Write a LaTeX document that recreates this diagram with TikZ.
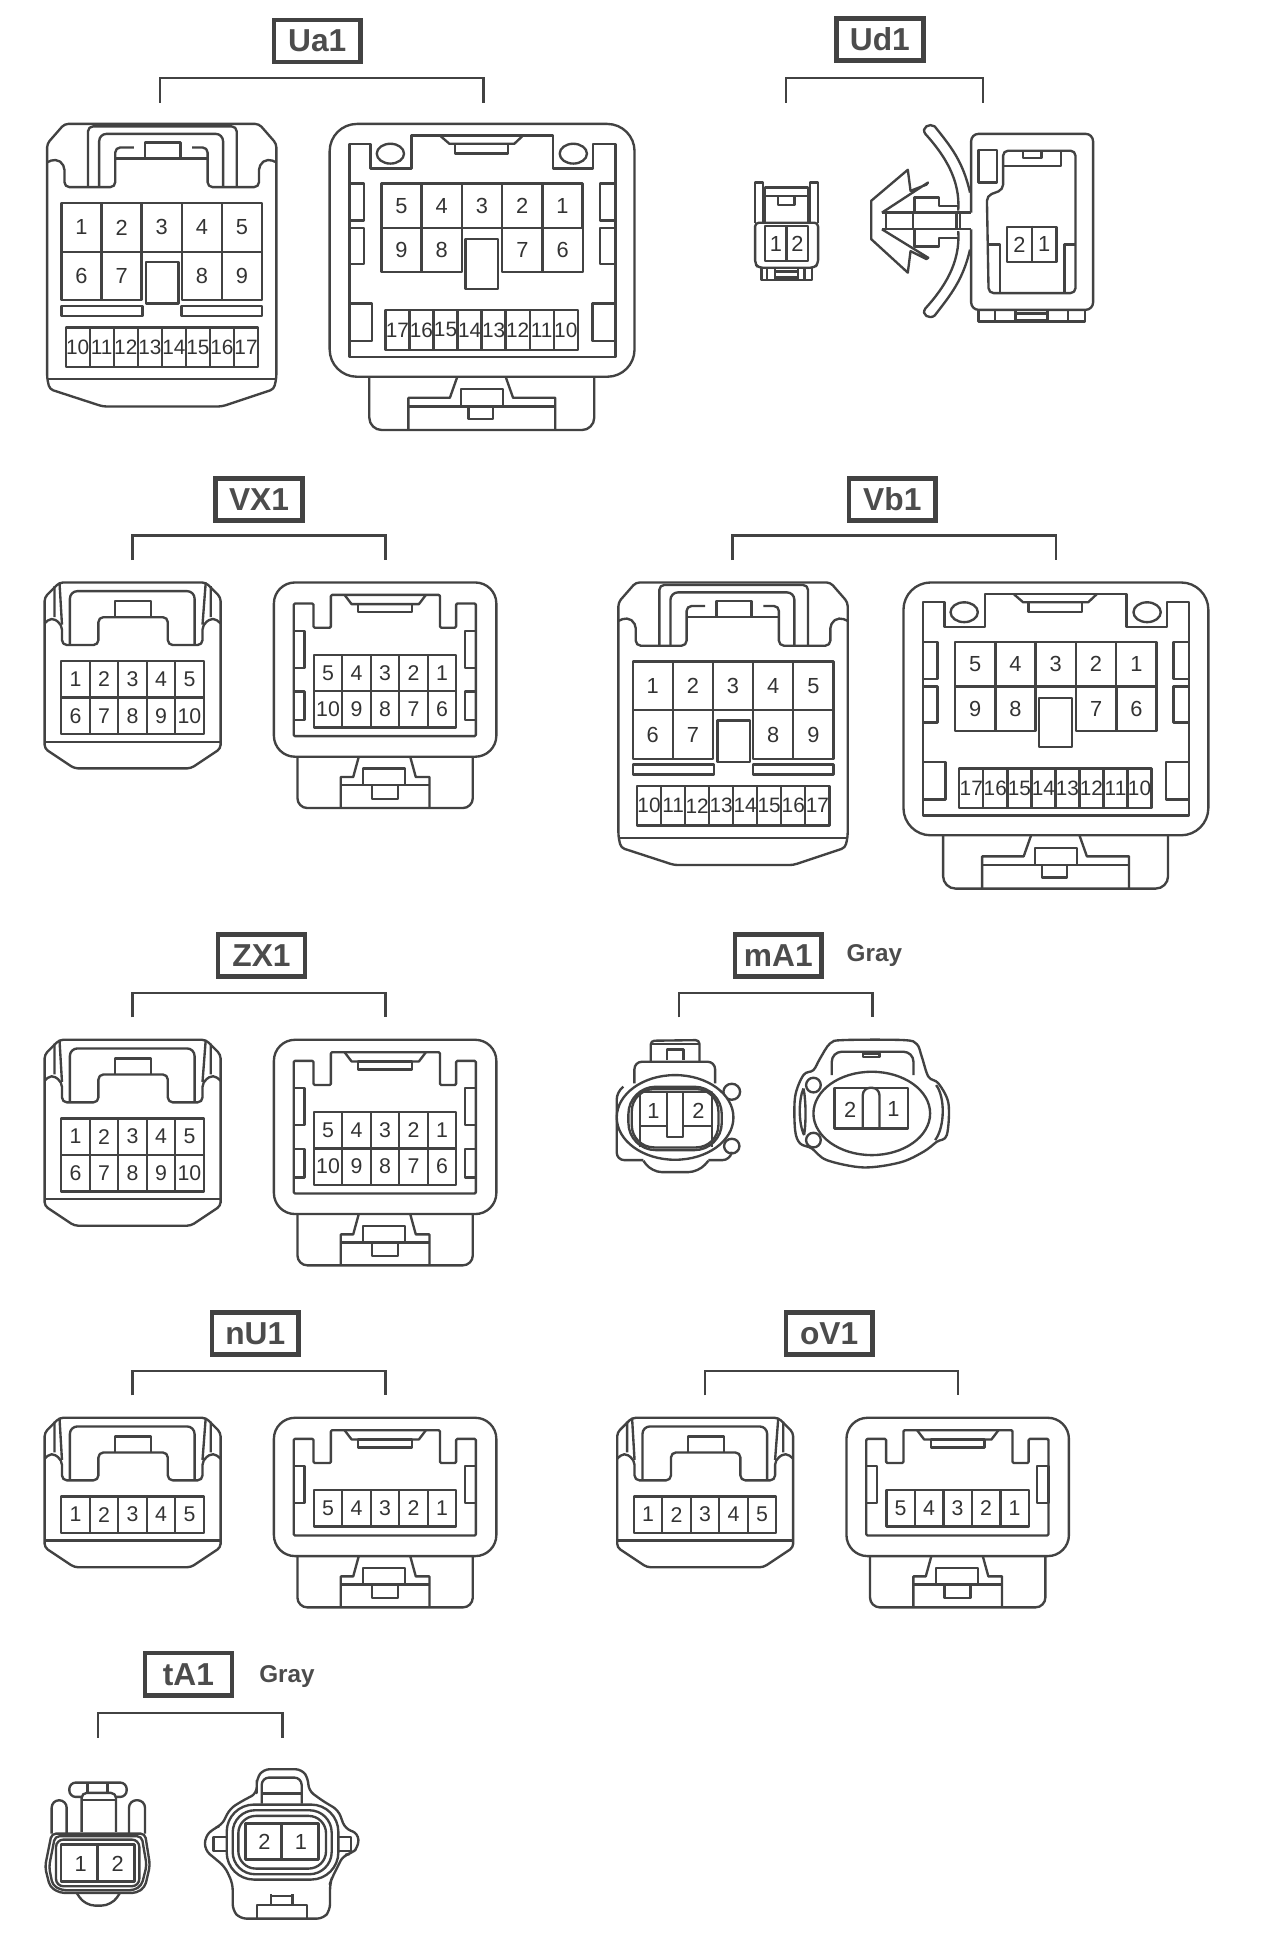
\documentclass[tikz,border=0pt]{standalone}
\usepackage{fontspec}
\setmainfont{Liberation Sans}
\usepackage{xcolor}
\usepackage{tikz}
\usetikzlibrary{positioning}
\colorlet{ink}{black!74}
\tikzset{
  part/.style={draw=ink, line width=0.95pt, line join=round},
  bracket/.style={draw=ink, line width=0.95pt},
  titlebox/.style={draw=ink, line width=1.8pt, minimum width=35pt, minimum height=17pt, inner sep=0pt,
    font=\fontsize{12.8}{14}\bfseries\selectfont, text=black!70},
  graytag/.style={inner sep=0pt, font=\fontsize{9.8}{10}\bfseries\selectfont, text=black!70},
  pinbig/.style={part, minimum width=16.2pt, minimum height=19.6pt, inner sep=0pt, font=\fontsize{8.8}{9}\selectfont, text=black!80},
  pinback/.style={pinbig, minimum height=17.8pt},
  pinlow/.style={part, minimum width=9.7pt, minimum height=16pt, inner sep=0pt, font=\fontsize{8.4}{9}\selectfont, text=black!80},
  pinmid/.style={part, minimum width=11.5pt, minimum height=14.7pt, inner sep=0pt, font=\fontsize{8.6}{9}\selectfont, text=black!80},
  pintwo/.style={part, minimum width=9pt, minimum height=14.2pt, inner sep=0pt, font=\fontsize{8.8}{9}\selectfont, text=black!80},
}

% bracket under a title box
\newcommand{\groupbracket}[4]{
  \coordinate (#1l) at (#2,{#4+20});
  \coordinate (#1r) at (#3,{#4+20});
  \draw[bracket] (#1l) -- ++(0,-20) -| (#1r);
}

% plug with 5 or 10 pins, #1 moves the lower edge
\newcommand{\plugmid}[1]{
  \draw[part, rounded corners=1.5pt] (0,33) -- (0,12) -- (12,0) -- (130,0) -- (142,12) -- (142,{128.5+#1}) -- (142,{134+#1})
    -- (118,{150+#1}) -- (24,{150+#1}) -- (0,{134+#1}) -- cycle;
  \draw[part] (0,{128.5+#1}) -- (142,{128.5+#1});
  \draw[part, rounded corners=2pt] (0,33) -- (5.6,28) -- (14,34) -- (14,50.5) -- (43.4,50.5) -- (43.4,28) -- (99.4,28) -- (99.4,50.5)
    -- (127.4,50.5) -- (127.4,34) -- (136,28) -- (142,33);
  \draw[part] (14,34) -- (12,0) (127.4,34) -- (130,0) (8,3) -- (8,28) (134,3) -- (134,28);
  \draw[part, rounded corners=3pt] (20.4,50.5) -- (20.4,7) -- (121,7) -- (121,50.5);
  \draw[part] (57,28) -- (57,15) -- (86,15) -- (86,28);
}
% socket with 5 or 10 pins
\newcommand{\socketmid}[1]{
  \draw[part] (0,0) [rounded corners=8.5pt] -- (179.5,0) -- (179.5,{140.6+#1}) -- (0,{140.6+#1}) -- cycle;
  \draw[part, rounded corners=0.5pt] (16,17) -- (32,17) -- (32,36.5) -- (46,36.5) -- (46,10) -- (134,10) -- (134,36.5) -- (147,36.5) -- (147,17)
    -- (163,17) -- (163,{124+#1}) -- (16,{124+#1}) -- cycle;
  \draw[part] (57,10) -- (62.7,17.5) -- (117,17.5) -- (122.7,10);
  \draw[part] (68,17.5) rectangle (111.5,24);
  \draw[part] (16,39) rectangle (24.6,69) (154,39) rectangle (163,69);
  \draw[part, rounded corners=4pt] (19,{140.6+#1}) -- (19,{182+#1}) -- (160.5,{182+#1}) -- (160.5,{140.6+#1});
  \draw[part] (68.5,{140.6+#1}) -- (64,{157+#1}) -- (54,{157+#1}) -- (54,{181.7+#1});
  \draw[part] (110,{140.6+#1}) -- (114.5,{157+#1}) -- (125.5,{157+#1}) -- (125.5,{181.7+#1});
  \draw[part] (54,{163.5+#1}) -- (125.5,{163.5+#1});
  \draw[part] (72,{163.5+#1}) -- (72,{150+#1}) -- (106,{150+#1}) -- (106,{163.5+#1});
  \draw[part] (79,{163.5+#1}) -- (79,{174.6+#1}) -- (100,{174.6+#1}) -- (100,{163.5+#1});
}

\tikzset{
  plugbig/.pic={
    \draw[part, rounded corners=1.5pt] (2,214) -- (0,205) -- (0,16) -- (14,0) -- (171,0) -- (185,16) -- (185,205) -- (183,214) -- (141,228) -- (45,228) -- cycle;
    \draw[part] (0,206) -- (185,206);
    \draw[part, rounded corners=2pt] (0,31) -- (7,28) -- (14,33) -- (14,51) -- (55,51) -- (55,19) -- (70,19);
    \draw[part, rounded corners=2pt] (185,31) -- (178,28) -- (171,33) -- (171,51) -- (129.5,51) -- (129.5,19) -- (117,19);
    \draw[part] (55,28) -- (129.5,28);
    \draw[part] (79,15) rectangle (107.5,28);
    \draw[part, rounded corners=2pt] (33,51) -- (33,2) -- (153,2) -- (153,51);
    \draw[part, rounded corners=3pt] (42,51) -- (42,8) -- (142,8) -- (142,51);
    \foreach \n [count=\i from 0] in {1,2,3,4,5}
      \node[pinbig] (p\n) at ({27.7+\i*32.4},83.5) {\n};
    \foreach \n/\c in {6/27.7,7/60.1,8/124.9,9/157.3}
      \node[pinbig] (p\n) at (\c,122.7) {\n};
    \draw[part] (80,111.5) rectangle (106,145);
    \draw[part] (11.5,147) rectangle (77,155) (108.5,147) rectangle (173.6,155);
    \foreach \n [count=\i from 0] in {10,...,17}
      \node[pinlow] (p\n) at ({24.7+\i*19.4},180.2) {\n};
  },
  socketbig/.pic={
    \draw[part] (0,0) [rounded corners=11pt] -- (246,0) -- (246,204) -- (0,204) -- cycle;
    \draw[part] (16,16) -- (33,16) -- (33,36) -- (66,36) -- (66,9.4) -- (180,9.4) -- (180,36) -- (212.5,36) -- (212.5,16) -- (230.5,16) -- (230.5,188) -- (16,188) -- cycle;
    \draw[part] (89,9.4) -- (96.6,16) -- (149,16) -- (156,9.4);
    \draw[part] (101,16) rectangle (144,24);
    \draw[part] (49,24) ellipse (11 and 8) (196.6,24) ellipse (11 and 8);
    \draw[part] (16,48) rectangle (27.5,78) (16,84) rectangle (27.5,113) (218,48) rectangle (230.5,78) (218,84) rectangle (230.5,113);
    \draw[part] (16,145) rectangle (34,175) (212,145) rectangle (230.5,175);
    \foreach \n [count=\i from 0] in {5,4,3,2,1}
      \node[pinback] (p\n) at ({57.9+\i*32.5},66) {\n};
    \foreach \n/\c in {9/57.9,8/90.4,7/155.5,6/188}
      \node[pinback] (p\n) at (\c,101.8) {\n};
    \draw[part, fill=white] (109.5,93) rectangle (136,133);
    \foreach \n [count=\i from 0] in {17,16,...,10}
      \node[pinlow] (p\n) at ({54.7+\i*19.4},166.2) {\n};
    \draw[part, rounded corners=5pt] (32,204) -- (32,247) -- (213.5,247) -- (213.5,204);
    \draw[part] (103,204) -- (97,221) -- (63.5,221) -- (63.5,246.5);
    \draw[part] (142,204) -- (148,221) -- (182,221) -- (182,246.5);
    \draw[part] (63.5,228) -- (182,228);
    \draw[part] (106,228) -- (106,214) -- (140,214) -- (140,228);
    \draw[part] (112,228) -- (112,238) -- (132,238) -- (132,228);
  },
  plugten/.pic={
    \plugmid{0}
    \foreach \n [count=\i from 0] in {1,...,5}
      \node[pinmid] (p\n) at ({24.9+\i*23},78.1) {\n};
    \foreach \n [count=\i from 0] in {6,...,10}
      \node[pinmid] (p\n) at ({24.9+\i*23},107.6) {\n};
  },
  socketten/.pic={
    \socketmid{0}
    \draw[part] (16,88) rectangle (24.6,111) (154,88) rectangle (163,111);
    \foreach \n [count=\i from 0] in {5,4,3,2,1}
      \node[pinmid] (p\n) at ({43.7+\i*23},73.1) {\n};
    \foreach \n [count=\i from 0] in {10,9,8,7,6}
      \node[pinmid] (p\n) at ({43.7+\i*23},102.3) {\n};
  },
  plugfive/.pic={
    \plugmid{-29.4}
    \foreach \n [count=\i from 0] in {1,...,5}
      \node[pinmid] (p\n) at ({24.9+\i*23},78.1) {\n};
  },
  socketfive/.pic={
    \socketmid{-29}
    \foreach \n [count=\i from 0] in {5,4,3,2,1}
      \node[pinmid] (p\n) at ({43.7+\i*23},73.1) {\n};
  },
}

\begin{document}
\begin{tikzpicture}[x=0.5pt,y=-0.5pt]
  \useasboundingbox (0,0) rectangle (1020,1567);
  \fill[white] (0,0) rectangle (1020,1567);

  % Ua1
  \node[titlebox] (ua1) at (256,33) {Ua1};
  \groupbracket{ua1}{129}{390}{63}
  \pic (ua1a) at (38,100) {plugbig};
  \pic (ua1b) at (266,100) {socketbig};

  % Ud1
  \node[titlebox] (ud1) at (710,32) {Ud1};
  \groupbracket{ud1}{634}{793}{63}
  \begin{scope}[shift={(-2,0)}]
  \draw[part, rounded corners=1.5pt] (611.3,179.7) -- (611.3,213) -- (614,216) -- (659,216) -- (662.1,213) -- (662.1,179.7) -- cycle;
  \draw[part] (611.3,179.7) -- (611.3,147.3) -- (617.8,147.3) -- (617.8,179.7);
  \draw[part] (655.6,179.7) -- (655.6,147.3) -- (662.1,147.3) -- (662.1,179.7);
  \draw[part] (619.4,179.7) -- (619.4,151.4) -- (654,151.4) -- (654,179.7) (619.4,158) -- (654,158);
  \draw[part] (629.5,158) rectangle (643,165.4);
  \node[pintwo, minimum width=17.3pt] (ud1p) at (636.7,196.6) {};
  \node[pintwo, draw=none] (ud1p1) at (628,196.6) {1};
  \node[pintwo, draw=none] (ud1p2) at (645.5,196.6) {2};
  \draw[part] (ud1p.north) -- (ud1p.south);
  \draw[part] (616.5,216) -- (616.5,225.7) -- (657.2,225.7) -- (657.2,216);
  \draw[part] (620.8,216) -- (620.8,225.7) (651.2,216) -- (651.2,225.7) (627.3,216) -- (627.3,225.7) (645.8,216) -- (645.8,225.7);
  \draw[part] (627.3,219) rectangle (645.8,223.8);
  \end{scope}
  % clip and housing
  \begin{scope}[shift={(-3,0)}]
  \draw[part, rounded corners=3pt] (786.6,171.6) -- (786.6,108) -- (885,108) -- (885,250) -- (786.6,250) -- (786.6,185);
  \draw[part] (714.6,171.6) -- (786.6,171.6) (714.6,185) -- (786.6,185);
  \draw[part] (717.8,171.6) -- (717.8,185) (739.6,171.6) -- (739.6,185) (774.8,171.6) -- (774.8,185) (777.6,171.6) -- (777.6,185);
  \draw[part] (714.6,171.6) -- (751.8,147.3) -- (750.5,149) -- (737.7,154) -- (735.5,137) -- (706,162) -- (706,193) -- (735.5,220) -- (737.7,202.7) -- (750.5,209) -- (752,208) -- (714.6,185);
  \draw[part] (741,171.6) -- (741,159.5) -- (760.5,159.5) -- (760.5,166) -- (776.2,166);
  \draw[part] (741,185) -- (741,199) -- (760.5,199) -- (760.5,192) -- (776.2,192);
  \draw[part] (785.7,155.4) .. controls (780,130) and (770,118) .. (757.2,102) .. controls (753,99) and (746,103) .. (749.6,108) .. controls (765,125) and (778,145) .. (776.2,170);
  \draw[part] (785.7,201.4) .. controls (780,226) and (770,238) .. (757.2,254.6) .. controls (753,258) and (746,254) .. (749.6,249) .. controls (765,232) and (778,212) .. (776.2,186.5);
  \draw[part] (792.5,120.8) rectangle (807.5,147.3);
  \draw[part, rounded corners=2pt] (812.4,121.6) -- (870.8,121.6) -- (870.8,236.5) -- (800.7,236.5) -- (799.3,158) -- (812.4,153) -- cycle;
  \draw[part] (812.4,133.8) -- (859,133.8) -- (859,121.6);
  \draw[part] (828.4,121.6) -- (828.4,127.6) -- (843.4,127.6) -- (843.4,121.6);
  \node[pintwo, minimum width=20pt] (ud1q) at (835.6,197.2) {};
  \node[pintwo, draw=none] (ud1q2) at (825.5,197.2) {2};
  \node[pintwo, draw=none] (ud1q1) at (845.5,197.2) {1};
  \draw[part] (ud1q.north) -- (ud1q.south);
  \draw[part] (800.5,197.3) -- (809.7,197.3) -- (809.7,236.5) (870.8,197.3) -- (861.8,197.3) -- (861.8,236.5);
  \draw[part] (792.5,250) -- (792.5,259.5) -- (878.7,259.5) -- (878.7,250);
  \draw[part] (806,250) -- (806,259.5) (822.4,250) -- (822.4,259.5) (848.3,250) -- (848.3,259.5) (864.6,250) -- (864.6,259.5);
  \draw[part] (822.4,253) -- (848.3,253) (822.4,258) -- (848.3,258);
  \end{scope}

  % VX1
  \node[titlebox] (vx1) at (209,403) {VX1};
  \groupbracket{vx1}{107}{311}{432}
  \pic (vx1a) at (36,470) {plugten};
  \pic (vx1b) at (221,470) {socketten};

  % Vb1
  \node[titlebox] (vb1) at (720,403) {Vb1};
  \groupbracket{vb1}{591}{852}{432}
  \pic (vb1a) at (499,470) {plugbig};
  \pic (vb1b) at (729,470) {socketbig};

  % ZX1
  \node[titlebox] (zx1) at (211,771) {ZX1};
  \groupbracket{zx1}{107}{311}{801}
  \pic (zx1a) at (36,839) {plugten};
  \pic (zx1b) at (221,839) {socketten};

  % mA1
  \node[titlebox] (ma1) at (628,771) {mA1};
  \node[graytag, right=9pt of ma1] (ma1g) {Gray};
  \groupbracket{ma1}{548}{704}{801}
  \begin{scope}[shift={(484.2,823.1)},scale=0.269]
    \draw[part, rounded corners=1.5pt] (152,123) -- (152,62) -- (298,60) -- (298,123);
    \draw[part] (152,72) -- (298,72);
    \draw[part] (200,120) -- (200,88) -- (250,88) -- (250,120);
    \draw[part, rounded corners=3pt] (103,190) -- (103,125) -- (345,125) -- (345,190);
    \draw[part] (395,215) circle (25 and 24) (395,378) circle (23 and 22);
    \draw[part, rounded corners=3pt] (70,200) -- (50,215) -- (50,420) -- (130,420);
    \draw[part, rounded corners=3pt] (325,420) -- (390,420) -- (395,395);
    \draw[part, rounded corners=4pt] (130,422) -- (155,456) -- (295,456) -- (325,422);
    \draw[part, fill=white] (225,292) ellipse (175 and 127);
    \draw[part, rounded corners=11pt] (85,200) rectangle (365,390);
    \draw[part, rounded corners=9pt] (95,207) rectangle (355,382);
    \draw[part] (120,382) -- (120,215) -- (335,215) -- (335,382) (120,318) -- (200,318) (248,318) -- (335,318);
    \draw[part] (200,215) -- (200,350) -- (248,350) -- (248,215);
    \node[pintwo, draw=none] (ma1p1) at (160,272) {1};
    \node[pintwo, draw=none] (ma1p2) at (295,272) {2};
    % socket
    \draw[part] plot[smooth cycle, tension=0.55] coordinates {(660,115) (690,70) (730,60) (910,60) (950,72) (965,110) (985,170) (1015,190) (1045,250) (1040,345) (1010,365) (970,395) (900,427) (790,442) (680,420) (635,385) (600,370) (585,330) (585,230) (610,165) (640,150)};
    \draw[part] (1008,195) .. controls (1035,230) and (1035,320) .. (1005,360);
    \draw[part] (610,205) .. controls (595,240) and (595,310) .. (612,345) (610,205) .. controls (618,240) and (618,310) .. (612,345);
    \draw[part, rounded corners=4pt] (695,165) -- (695,95) -- (940,95) -- (940,165);
    \draw[part] (788,100) rectangle (838,110);
    \draw[part, fill=white] (640,195) circle (22) (640,360) circle (22);
    \draw[part, fill=white] (815,280) ellipse (175 and 125);
    \draw[part] (703,203) rectangle (923,325);
    \draw[part, rounded corners=3pt] (788,325) -- (788,203) -- (838,203) -- (838,325);
    \node[pintwo, draw=none] (ma1q2) at (750,268) {2};
    \node[pintwo, draw=none] (ma1q1) at (880,268) {1};
  \end{scope}

  % nU1
  \node[titlebox] (nu1) at (206,1076) {nU1};
  \groupbracket{nu1}{107}{311}{1106}
  \pic (nu1a) at (36,1144) {plugfive};
  \pic (nu1b) at (221,1144) {socketfive};

  % oV1
  \node[titlebox] (ov1) at (669,1076) {oV1};
  \groupbracket{ov1}{569}{773}{1106}
  \pic (ov1a) at (498,1144) {plugfive};
  \pic (ov1b) at (683,1144) {socketfive};

  % tA1
  \node[titlebox] (ta1) at (152,1351) {tA1};
  \node[graytag, right=10pt of ta1, yshift=-1pt] (ta1g) {Gray};
  \groupbracket{ta1}{79}{228}{1382}
  \begin{scope}[shift={(24.2,1412.25)},scale=0.269]
    \draw[part, rounded corners=2.6pt] (118,97) rectangle (290,140);
    \draw[part] (172,97) -- (172,128) (232,97) -- (232,128);
    \draw[part, rounded corners=2pt, fill=white] (155,245) -- (155,128) -- (258,128) -- (258,245);
    \draw[part] (155,150) -- (258,150);
    \draw[part, rounded corners=3pt] (65,250) -- (65,150) -- (110,150) -- (110,250);
    \draw[part, rounded corners=3pt] (297,250) -- (297,150) -- (345,150) -- (345,250);
    \draw[part, rounded corners=1.8pt] (200,250) -- (345,250) -- (360,345) -- (345,410) -- (320,428) -- (90,428) -- (60,410) -- (45,350) -- (65,250) -- cycle;
    \draw[part, rounded corners=1.8pt] (200,258) -- (335,258) -- (350,345) -- (335,405) -- (312,420) -- (95,420) -- (68,405) -- (57,350) -- (75,258) -- cycle;
    \draw[part, rounded corners=3pt] (78,268) rectangle (328,408);
    \draw[part, line width=1.2pt] (93,282) rectangle (313,393) (203,282) -- (203,393);
    \draw[part, rounded corners=4pt] (140,428) -- (165,466) -- (245,466) -- (270,428);
    \node[pintwo, draw=none] (ta1p1) at (152,340) {1};
    \node[pintwo, draw=none] (ta1p2) at (263,340) {2};
    % socket
    \draw[part, rounded corners=2.5pt] (680,110) -- (680,85) -- (700,57) -- (815,57) -- (835,85) -- (835,120) -- (875,150) -- (925,180) -- (945,235) -- (985,250) -- (985,290) -- (965,310) -- (940,315) -- (905,385) -- (900,400) -- (900,480) -- (880,505) -- (630,505) -- (608,480) -- (608,400) -- (585,350) -- (525,300) -- (525,260) -- (550,235) -- (575,225) -- (600,175) -- (640,150) -- (680,130) -- cycle;
    \draw[part, rounded corners=3pt] (695,160) -- (695,82) -- (815,82) -- (815,160);
    \draw[part] (695,130) -- (815,130);
    \draw[part, rounded corners=11pt] (590,163) rectangle (925,388);
    \draw[part, rounded corners=9pt] (608,180) rectangle (905,372);
    \draw[part, rounded corners=7pt] (625,197) rectangle (888,355);
    \draw[part, line width=1.2pt] (645,220) rectangle (865,328) (755,220) -- (755,328);
    \draw[part] (590,260) -- (550,260) -- (550,302) -- (590,302);
    \draw[part] (925,260) -- (962,260) -- (962,302) -- (925,302);
    \draw[part] (680,505) -- (680,465) -- (830,465) -- (830,505);
    \draw[part] (722,465) -- (722,430) (787,465) -- (787,430) (722,437) -- (787,437);
    \node[pintwo, draw=none] (ta1q2) at (703,275) {2};
    \node[pintwo, draw=none] (ta1q1) at (813,275) {1};
  \end{scope}
\end{tikzpicture}
\end{document}
